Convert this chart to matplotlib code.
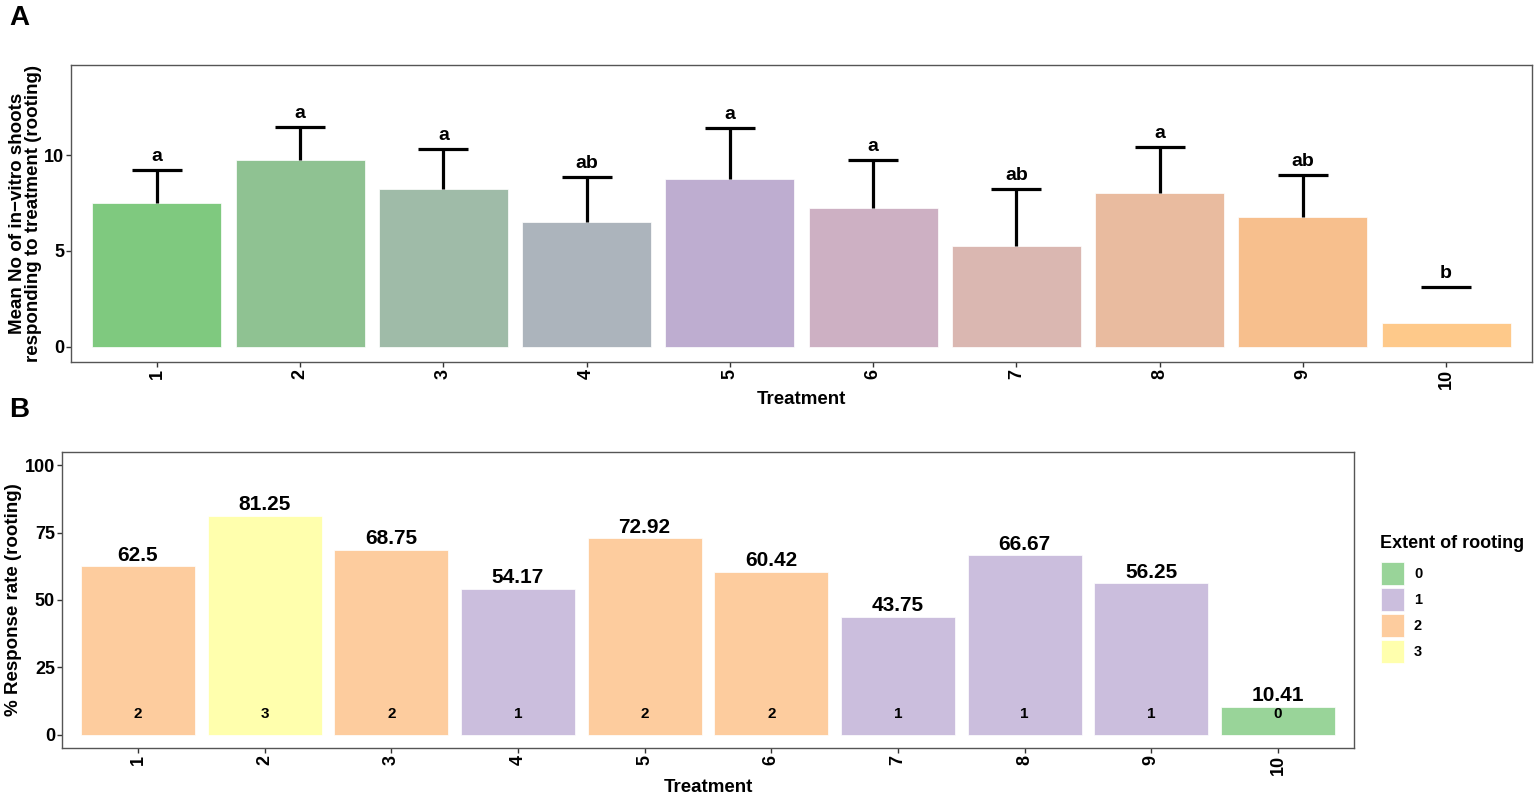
import matplotlib.pyplot as plt
from matplotlib.patches import Rectangle

plt.rcParams['font.family'] = ['Liberation Sans', 'DejaVu Sans']
plt.rcParams['font.weight'] = 'bold'

# panel A data
treat = [1, 2, 3, 4, 5, 6, 7, 8, 9, 10]
mean_roots = [7.49, 9.74, 8.22, 6.49, 8.74, 7.23, 5.24, 8.01, 6.75, 1.26]
err_top = [9.21, 11.47, 10.31, 8.85, 11.41, 9.74, 8.22, 10.42, 8.95, 3.14]
letters = ['a', 'a', 'a', 'ab', 'a', 'a', 'ab', 'a', 'ab', 'b']
colsA = ['#7FC97F', '#8FC292', '#9FBBA8', '#ACB4BC', '#BEADD0',
         '#CDB0C3', '#DAB7B1', '#E9BB9F', '#F7BF8D', '#FEC98A']

# panel B data
resp = [62.5, 81.25, 68.75, 54.17, 72.92, 60.42, 43.75, 66.67, 56.25, 10.41]
resp_lbl = ['62.5', '81.25', '68.75', '54.17', '72.92', '60.42', '43.75', '66.67', '56.25', '10.41']
extent = [2, 3, 2, 1, 2, 2, 1, 1, 1, 0]
ext_levels = [0, 1, 2, 3]
ext_cols = {0: '#99D499', 1: '#CBBEDD', 2: '#FDCC9E', 3: '#FFFFAD'}

W, H = 1536, 796
fig = plt.figure(figsize=(W / 100, H / 100), dpi=100)

def style_axes(ax):
    for s in ax.spines.values():
        s.set_color('#555555')
        s.set_linewidth(1.0)
    ax.tick_params(axis='both', colors='#333333', length=3.5, width=1, pad=1.5,
                   labelsize=13, labelcolor='black')
    ax.set_xticks(treat)
    ax.set_xticklabels([str(t) for t in treat], rotation=90, fontweight='bold')
    for lb in ax.get_yticklabels():
        lb.set_fontweight('bold')

# ---- A
axA = fig.add_axes([71 / W, 1 - 362 / H, 1461 / W, 297 / H])
axA.bar(treat, mean_roots, width=0.9, color=colsA, edgecolor='white', linewidth=0.5)
for i in range(len(treat)):
    x = treat[i]
    if i < 9:
        axA.plot([x, x], [mean_roots[i], err_top[i]], color='black', lw=2.3, solid_capstyle='butt')
    axA.plot([x - 0.175, x + 0.175], [err_top[i], err_top[i]], color='black', lw=2.3, solid_capstyle='butt')
    axA.text(x, err_top[i] + 0.25, letters[i], ha='center', va='bottom', fontsize=14, fontweight='bold')
axA.set_xlim(0.4, 10.6)
axA.set_ylim(-0.8, 14.7)
axA.set_yticks([0, 5, 10])
style_axes(axA)
axA.set_xlabel('Treatment', fontsize=13.5, fontweight='bold', labelpad=1.5)
axA.set_ylabel('Mean No of in\u2212vitro shoots\nresponding to treatment (rooting)',
               fontsize=13.5, fontweight='bold', linespacing=0.9)
axA.yaxis.set_label_coords(-0.020, 0.5)

# ---- B
axB = fig.add_axes([62 / W, 1 - 748 / H, 1292 / W, 296 / H])
axB.bar(treat, resp, width=0.9, color=[ext_cols[e] for e in extent], edgecolor='white', linewidth=0.5)
for i in range(len(treat)):
    axB.text(treat[i], resp[i] + 0.6, resp_lbl[i], ha='center', va='bottom', fontsize=15, fontweight='bold')
    axB.text(treat[i], 7.5, str(extent[i]), ha='center', va='center', fontsize=11, fontweight='bold')
axB.set_xlim(0.4, 10.6)
axB.set_ylim(-5, 105)
axB.set_yticks([0, 25, 50, 75, 100])
style_axes(axB)
axB.set_xlabel('Treatment', fontsize=13.5, fontweight='bold', labelpad=3)
axB.set_ylabel('% Response rate (rooting)', fontsize=13.5, fontweight='bold')
axB.yaxis.set_label_coords(-0.031, 0.5)

# legend drawn by hand (ggplot-style square keys)
fig.text(1380 / W, 1 - 543 / H, 'Extent of rooting', fontsize=13, fontweight='bold', ha='left', va='center')
for j, k in enumerate(ext_levels):
    top = 562 + 26 * j
    fig.patches.append(Rectangle((1381 / W, 1 - (top + 23) / H), 23 / W, 23 / H,
                                 transform=fig.transFigure, facecolor=ext_cols[k],
                                 edgecolor='white', linewidth=0.5))
    fig.text(1414 / W, 1 - (top + 11.5) / H, str(k), fontsize=10.5, fontweight='bold', ha='left', va='center')

fig.text(9 / W, 1 - 18 / H, 'A', fontsize=20, fontweight='bold', va='center', ha='left')
fig.text(9 / W, 1 - 410 / H, 'B', fontsize=20, fontweight='bold', va='center', ha='left')

fig.savefig('out.png', dpi=100)
